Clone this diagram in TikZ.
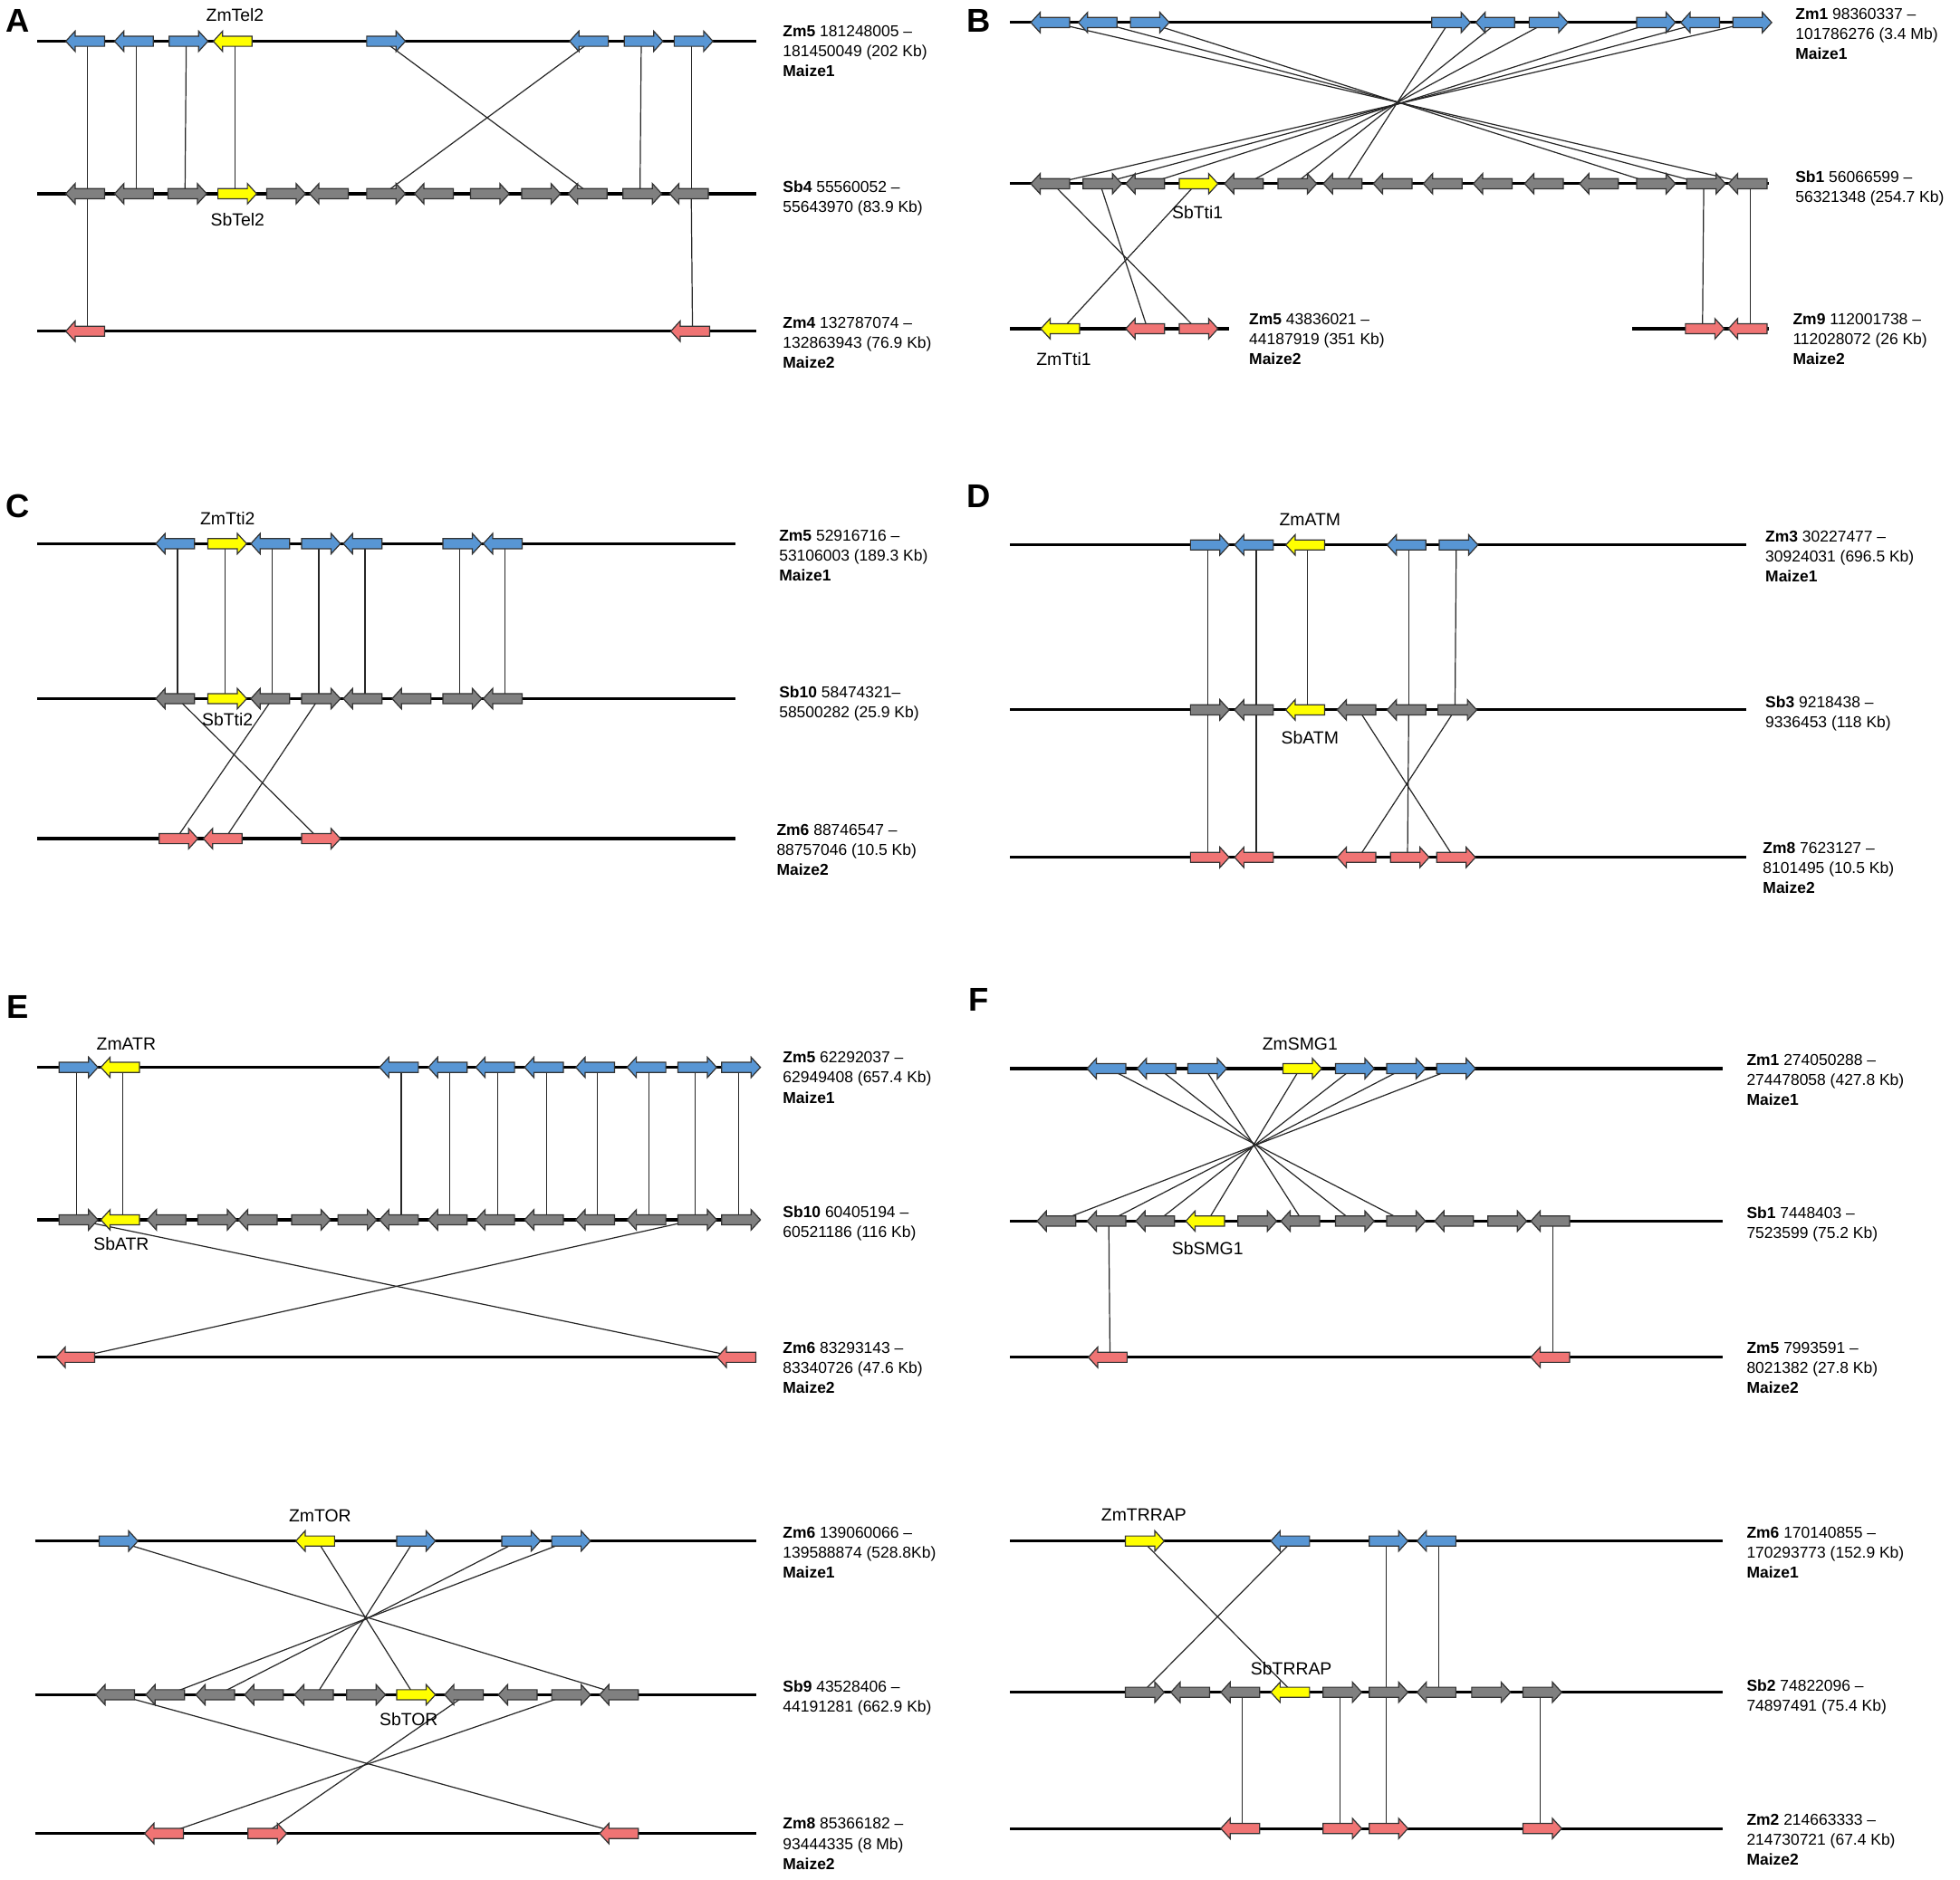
\documentclass[tikz,border=0pt]{standalone}
\usepackage{fontspec}
\setmainfont{Liberation Sans}
\usetikzlibrary{shapes.arrows,backgrounds}
\definecolor{zmblue}{RGB}{88,150,212}
\definecolor{sbgray}{RGB}{128,128,128}
\definecolor{hlyel}{RGB}{255,255,0}
\definecolor{zmred}{RGB}{240,116,116}
\begin{document}
\begin{tikzpicture}[x=0.2mm, y=-0.2mm,
    gene/.style={single arrow, draw=black!80, line width=0.5pt, fill=#1,
      inner xsep=0pt, inner ysep=0.72mm, minimum height=6.2mm, minimum width=0pt,
      single arrow head extend=0.82mm, single arrow tip angle=95},
    chrom/.style={line width=1.3pt},
    link/.style={line width=0.5pt, black!85},
    info/.style={anchor=north west, inner sep=0pt, align=left, font=\fontsize{7.2}{9.1}\selectfont},
    tag/.style={inner sep=0pt, font=\fontsize{8}{9}\selectfont},
    letter/.style={inner sep=0pt, font=\fontsize{15}{15}\bfseries\selectfont}]
    \useasboundingbox (0,0) rectangle (1568,1504);

    % panel letters
    \node[letter] (la) at (14,17) {A};
    \node[letter] (lb) at (783,17) {B};
    \node[letter] (lc) at (14,405) {C};
    \node[letter] (ld) at (783,397) {D};
    \node[letter] (le) at (14,806) {E};
    \node[letter] (lf) at (783,800) {F};

    % chromosomes
    \draw[chrom] (30,33) -- (605,33);
    \draw[chrom] (30,155) -- (605,155);
    \draw[chrom] (30,265) -- (605,265);
    \draw[chrom] (808,18) -- (1415,18);
    \draw[chrom] (808,147) -- (1415,147);
    \draw[chrom] (808,263) -- (983,263);
    \draw[chrom] (1306,263) -- (1415,263);
    \draw[chrom] (30,435) -- (588,435);
    \draw[chrom] (30,559) -- (588,559);
    \draw[chrom] (30,671) -- (588,671);
    \draw[chrom] (808,436) -- (1397,436);
    \draw[chrom] (808,568) -- (1397,568);
    \draw[chrom] (808,686) -- (1397,686);
    \draw[chrom] (30,854) -- (605,854);
    \draw[chrom] (30,976) -- (605,976);
    \draw[chrom] (30,1086) -- (605,1086);
    \draw[chrom] (808,855) -- (1378,855);
    \draw[chrom] (808,977) -- (1378,977);
    \draw[chrom] (808,1086) -- (1378,1086);
    \draw[chrom] (28,1233) -- (605,1233);
    \draw[chrom] (28,1356) -- (605,1356);
    \draw[chrom] (28,1467) -- (605,1467);
    \draw[chrom] (808,1233) -- (1378,1233);
    \draw[chrom] (808,1354) -- (1378,1354);
    \draw[chrom] (808,1463) -- (1378,1463);

    % A: Tel2
    \foreach \x/\r/\c [count=\i] in {70/180/zmblue, 109/180/zmblue, 149/0/zmblue, 188/180/hlyel,
        307/0/zmblue, 473/180/zmblue, 513/0/zmblue, 553/0/zmblue}
        \node[gene=\c, shape border rotate=\r] (at\i) at (\x,33) {};
    \foreach \x/\r/\c [count=\i] in {70/180/sbgray, 109/180/sbgray, 148/0/sbgray, 188/0/hlyel,
        227/0/sbgray, 265/180/sbgray, 307/0/sbgray, 349/180/sbgray, 390/0/sbgray, 431/0/sbgray,
        472/180/sbgray, 512/0/sbgray, 553/180/sbgray}
        \node[gene=\c, shape border rotate=\r] (am\i) at (\x,155) {};
    \foreach \x/\r/\c [count=\i] in {70/180/zmred, 554/180/zmred}
        \node[gene=\c, shape border rotate=\r] (ab\i) at (\x,265) {};
    \node[tag] (zmtel2) at (188,12) {ZmTel2};
    \node[tag] (sbtel2) at (190,176) {SbTel2};
    \node[info] (ainfo1) at (626,20.4) {\textbf{Zm5} 181248005 –\\181450049 (202 Kb)\\\textbf{Maize1}};
    \node[info] (ainfo2) at (626,144.4) {\textbf{Sb4} 55560052 –\\55643970 (83.9 Kb)};
    \node[info] (ainfo3) at (626,253.4) {\textbf{Zm4} 132787074 –\\132863943 (76.9 Kb)\\\textbf{Maize2}};

    % B: Tti1
    \foreach \x/\r/\c [count=\i] in {842/180/zmblue, 880/180/zmblue, 918/0/zmblue, 1159/0/zmblue,
        1198/180/zmblue, 1237/0/zmblue, 1323/0/zmblue, 1362/180/zmblue, 1400/0/zmblue}
        \node[gene=\c, shape border rotate=\r] (bt\i) at (\x,18) {};
    \foreach \x/\r/\c [count=\i] in {842/180/sbgray, 880/0/sbgray, 918/180/sbgray, 957/0/hlyel,
        997/180/sbgray, 1036/0/sbgray, 1076/180/sbgray, 1116/180/sbgray, 1156/180/sbgray,
        1196/180/sbgray, 1237/180/sbgray, 1281/180/sbgray, 1323/0/sbgray, 1363/0/sbgray, 1400/180/sbgray}
        \node[gene=\c, shape border rotate=\r] (bm\i) at (\x,147) {};
    \foreach \x/\r/\c [count=\i] in {850/180/hlyel, 918/180/zmred, 957/0/zmred}
        \node[gene=\c, shape border rotate=\r] (bb\i) at (\x,263) {};
    \foreach \x/\r/\c [count=\i] in {1362/0/zmred, 1400/180/zmred}
        \node[gene=\c, shape border rotate=\r] (bc\i) at (\x,263) {};
    \node[tag] (sbtti1) at (958,170) {SbTti1};
    \node[tag] (zmtti1) at (851,287) {ZmTti1};
    \node[info] (binfo1) at (1436,6.4) {\textbf{Zm1} 98360337 –\\101786276 (3.4 Mb)\\\textbf{Maize1}};
    \node[info] (binfo2) at (1436,136.4) {\textbf{Sb1} 56066599 –\\56321348 (254.7 Kb)};
    \node[info] (binfo3) at (999,250.4) {\textbf{Zm5} 43836021 –\\44187919 (351 Kb)\\\textbf{Maize2}};
    \node[info] (binfo4) at (1434,250.4) {\textbf{Zm9} 112001738 –\\112028072 (26 Kb)\\\textbf{Maize2}};

    % C: Tti2
    \foreach \x/\r/\c [count=\i] in {142/180/zmblue, 180/0/hlyel, 218/180/zmblue, 255/0/zmblue,
        292/180/zmblue, 368/0/zmblue, 404/180/zmblue}
        \node[gene=\c, shape border rotate=\r] (ct\i) at (\x,435) {};
    \foreach \x/\r/\c [count=\i] in {142/180/sbgray, 180/0/hlyel, 218/180/sbgray, 255/0/sbgray,
        292/180/sbgray, 331/180/sbgray, 368/0/sbgray, 404/180/sbgray}
        \node[gene=\c, shape border rotate=\r] (cm\i) at (\x,559) {};
    \foreach \x/\r/\c [count=\i] in {141/0/zmred, 180/180/zmred, 255/0/zmred}
        \node[gene=\c, shape border rotate=\r] (cb\i) at (\x,671) {};
    \node[tag] (zmtti2) at (182,415) {ZmTti2};
    \node[tag] (sbtti2) at (182,576) {SbTti2};
    \node[info] (cinfo1) at (623,423.4) {\textbf{Zm5} 52916716 –\\53106003 (189.3 Kb)\\\textbf{Maize1}};
    \node[info] (cinfo2) at (623,548.4) {\textbf{Sb10} 58474321–\\58500282 (25.9 Kb)};
    \node[info] (cinfo3) at (621,659.4) {\textbf{Zm6} 88746547 –\\88757046 (10.5 Kb)\\\textbf{Maize2}};

    % D: ATM
    \foreach \x/\r/\c [count=\i] in {966/0/zmblue, 1005/180/zmblue, 1046/180/hlyel,
        1127/180/zmblue, 1165/0/zmblue}
        \node[gene=\c, shape border rotate=\r] (dt\i) at (\x,436) {};
    \foreach \x/\r/\c [count=\i] in {966/0/sbgray, 1005/180/sbgray, 1046/180/hlyel,
        1087/180/sbgray, 1127/180/sbgray, 1164/0/sbgray}
        \node[gene=\c, shape border rotate=\r] (dm\i) at (\x,568) {};
    \foreach \x/\r/\c [count=\i] in {966/0/zmred, 1005/180/zmred, 1087/180/zmred,
        1126/0/zmred, 1163/0/zmred}
        \node[gene=\c, shape border rotate=\r] (db\i) at (\x,686) {};
    \node[tag] (zmatm) at (1048,416) {ZmATM};
    \node[tag] (sbatm) at (1048,590) {SbATM};
    \node[info] (dinfo1) at (1412,424.4) {\textbf{Zm3} 30227477 –\\30924031 (696.5 Kb)\\\textbf{Maize1}};
    \node[info] (dinfo2) at (1412,556.4) {\textbf{Sb3} 9218438 –\\9336453 (118 Kb)};
    \node[info] (dinfo3) at (1410,673.4) {\textbf{Zm8} 7623127 –\\8101495 (10.5 Kb)\\\textbf{Maize2}};

    % E: ATR
    \foreach \x/\r/\c [count=\i] in {61/0/zmblue, 98/180/hlyel, 321/180/zmblue, 360/180/zmblue,
        398/180/zmblue, 437/180/zmblue, 478/180/zmblue, 519/180/zmblue, 556/0/zmblue, 591/0/zmblue}
        \node[gene=\c, shape border rotate=\r] (et\i) at (\x,854) {};
    \foreach \x/\r/\c [count=\i] in {61/0/sbgray, 98/180/hlyel, 135/180/sbgray, 172/0/sbgray,
        208/180/sbgray, 247/0/sbgray, 284/0/sbgray, 321/180/sbgray, 360/180/sbgray, 398/180/sbgray,
        437/180/sbgray, 478/180/sbgray, 519/180/sbgray, 556/0/sbgray, 591/0/sbgray}
        \node[gene=\c, shape border rotate=\r] (em\i) at (\x,976) {};
    \foreach \x/\r/\c [count=\i] in {62/180/zmred, 591/180/zmred}
        \node[gene=\c, shape border rotate=\r] (eb\i) at (\x,1086) {};
    \node[tag] (zmatr) at (101,835) {ZmATR};
    \node[tag] (sbatr) at (97,995) {SbATR};
    \node[info] (einfo1) at (626,841.4) {\textbf{Zm5} 62292037 –\\62949408 (657.4 Kb)\\\textbf{Maize1}};
    \node[info] (einfo2) at (626,964.4) {\textbf{Sb10} 60405194 –\\60521186 (116 Kb)};
    \node[info] (einfo3) at (626,1073.4) {\textbf{Zm6} 83293143 –\\83340726 (47.6 Kb)\\\textbf{Maize2}};

    % F: SMG1
    \foreach \x/\r/\c [count=\i] in {887/180/zmblue, 927/180/zmblue, 964/0/zmblue, 1040/0/hlyel,
        1082/0/zmblue, 1123/0/zmblue, 1163/0/zmblue}
        \node[gene=\c, shape border rotate=\r] (ft\i) at (\x,855) {};
    \foreach \x/\r/\c [count=\i] in {847/180/sbgray, 887/180/sbgray, 926/180/sbgray, 966/180/hlyel,
        1004/0/sbgray, 1042/180/sbgray, 1082/0/sbgray, 1123/0/sbgray, 1165/180/sbgray,
        1204/0/sbgray, 1242/180/sbgray}
        \node[gene=\c, shape border rotate=\r] (fm\i) at (\x,977) {};
    \foreach \x/\r/\c [count=\i] in {888/180/zmred, 1242/180/zmred}
        \node[gene=\c, shape border rotate=\r] (fb\i) at (\x,1086) {};
    \node[tag] (zmsmg1) at (1040,835) {ZmSMG1};
    \node[tag] (sbsmg1) at (966,999) {SbSMG1};
    \node[info] (finfo1) at (1397,843.4) {\textbf{Zm1} 274050288 –\\274478058 (427.8 Kb)\\\textbf{Maize1}};
    \node[info] (finfo2) at (1397,965.4) {\textbf{Sb1} 7448403 –\\7523599 (75.2 Kb)};
    \node[info] (finfo3) at (1397,1073.4) {\textbf{Zm5} 7993591 –\\8021382 (27.8 Kb)\\\textbf{Maize2}};

    % G: TOR
    \foreach \x/\r/\c [count=\i] in {93/0/zmblue, 254/180/hlyel, 331/0/zmblue, 415/0/zmblue, 455/0/zmblue}
        \node[gene=\c, shape border rotate=\r] (gt\i) at (\x,1233) {};
    \foreach \x/\r/\c [count=\i] in {94/180/sbgray, 134/180/sbgray, 174/180/sbgray, 213/180/sbgray,
        253/180/sbgray, 291/0/sbgray, 331/0/hlyel, 373/180/sbgray, 416/180/sbgray, 455/0/sbgray,
        497/180/sbgray}
        \node[gene=\c, shape border rotate=\r] (gm\i) at (\x,1356) {};
    \foreach \x/\r/\c [count=\i] in {133/180/zmred, 212/0/zmred, 497/180/zmred}
        \node[gene=\c, shape border rotate=\r] (gb\i) at (\x,1467) {};
    \node[tag] (zmtor) at (256,1213) {ZmTOR};
    \node[tag] (sbtor) at (327,1376) {SbTOR};
    \node[info] (ginfo1) at (626,1221.4) {\textbf{Zm6} 139060066 –\\139588874 (528.8Kb)\\\textbf{Maize1}};
    \node[info] (ginfo2) at (626,1344.4) {\textbf{Sb9} 43528406 –\\44191281 (662.9 Kb)};
    \node[info] (ginfo3) at (626,1454.4) {\textbf{Zm8} 85366182 –\\93444335 (8 Mb)\\\textbf{Maize2}};

    % H: TRRAP
    \foreach \x/\r/\c [count=\i] in {914/0/hlyel, 1034/180/zmblue, 1109/0/zmblue, 1151/180/zmblue}
        \node[gene=\c, shape border rotate=\r] (ht\i) at (\x,1233) {};
    \foreach \x/\r/\c [count=\i] in {914/0/sbgray, 954/180/sbgray, 994/180/sbgray, 1034/180/hlyel,
        1072/0/sbgray, 1109/0/sbgray, 1151/180/sbgray, 1191/0/sbgray, 1232/0/sbgray}
        \node[gene=\c, shape border rotate=\r] (hm\i) at (\x,1354) {};
    \foreach \x/\r/\c [count=\i] in {994/180/zmred, 1072/0/zmred, 1109/0/zmred, 1232/0/zmred}
        \node[gene=\c, shape border rotate=\r] (hb\i) at (\x,1463) {};
    \node[tag] (zmtrrap) at (915,1212) {ZmTRRAP};
    \node[tag] (sbtrrap) at (1033,1335) {SbTRRAP};
    \node[info] (hinfo1) at (1397,1221.4) {\textbf{Zm6} 170140855 –\\170293773 (152.9 Kb)\\\textbf{Maize1}};
    \node[info] (hinfo2) at (1397,1343.4) {\textbf{Sb2} 74822096 –\\74897491 (75.4 Kb)};
    \node[info] (hinfo3) at (1397,1451.4) {\textbf{Zm2} 214663333 –\\214730721 (67.4 Kb)\\\textbf{Maize2}};

    % syntenic links, behind the genes
    \begin{scope}[on background layer]
        \foreach \p/\q in {at1/am1, am1/ab1, at2/am2, at3/am3, at4/am4, at5/am11, at6/am7,
            at7/am12, at8/am13, am13/ab2,
            bt1/bm15, bt2/bm14, bt3/bm13, bt4/bm7, bt5/bm6, bt6/bm5, bt7/bm3, bt8/bm2, bt9/bm1,
            bm1/bb3, bm2/bb2, bm4/bb1, bm14/bc1, bm15/bc2,
            ct1/cm1, ct2/cm2, ct3/cm3, ct4/cm4, ct5/cm5, ct6/cm7, ct7/cm8, cm1/cb3, cm3/cb1, cm4/cb2,
            dt1/dm1, dm1/db1, dt2/dm2, dm2/db2, dt3/dm3, dt4/dm5, dm5/db4, dt5/dm6, dm4/db5, dm6/db3,
            et1/em1, et2/em2, et3/em8, et4/em9, et5/em10, et6/em11, et7/em12, et8/em13, et9/em14,
            et10/em15, em1/eb2, em14/eb1,
            ft1/fm8, ft2/fm7, ft3/fm6, ft4/fm4, ft5/fm3, ft6/fm2, ft7/fm1, fm2/fb1, fm11/fb2,
            gt1/gm11, gt2/gm7, gt3/gm5, gt4/gm3, gt5/gm2, gm1/gb3, gm8/gb2, gm10/gb1,
            ht1/hm4, ht2/hm1, ht3/hm6, hm6/hb3, ht4/hm7, hm3/hb1, hm5/hb2, hm9/hb4}
            \draw[link] (\p.center) -- (\q.center);
    \end{scope}
\end{tikzpicture}
\end{document}
